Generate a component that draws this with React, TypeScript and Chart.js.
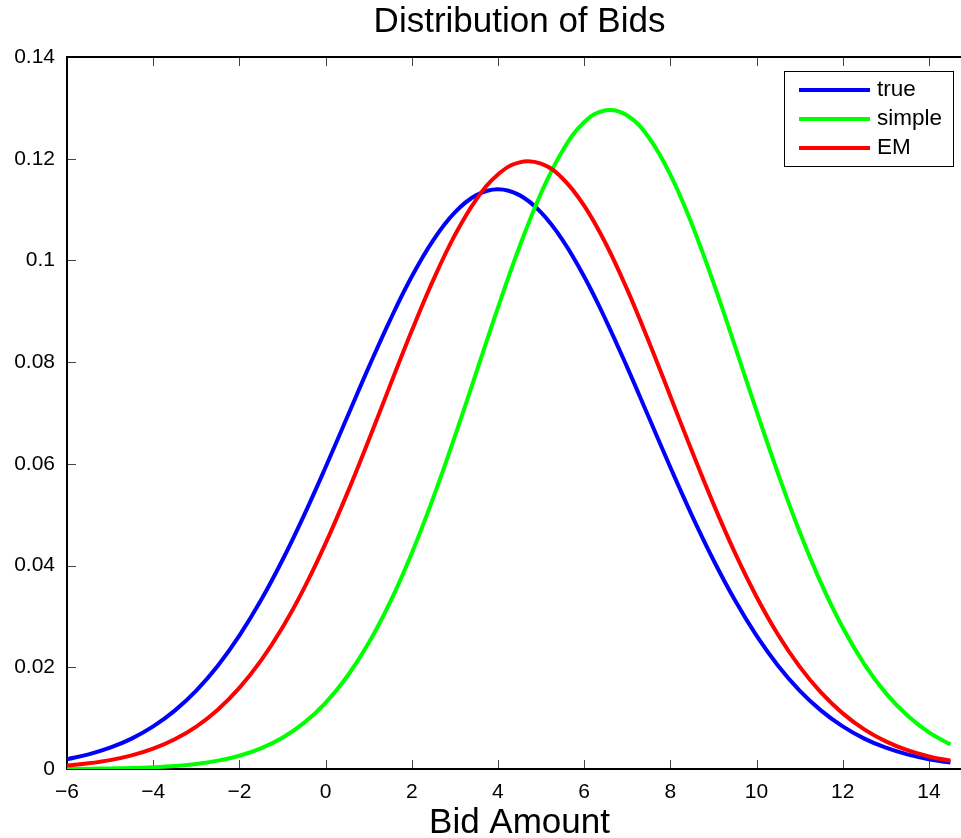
import React, { useEffect, useRef } from "react";
import { Chart, registerables } from "chart.js";

Chart.register(...registerables);

// x positions sampled along the curves
const bidAmounts = [
  -6, -5.5, -5, -4.5, -4, -3.5, -3, -2.5, -2, -1.5, -1, -0.5, 0, 0.5, 1, 1.5, 2, 2.5, 3, 3.5, 4,
  4.5, 5, 5.5, 6, 6.5, 7, 7.5, 8, 8.5, 9, 9.5, 10, 10.5, 11, 11.5, 12, 12.5, 13, 13.5, 14, 14.5,
];

const trueValues = [
  0.00192, 0.00287, 0.00418, 0.00597, 0.00837, 0.01148, 0.01543, 0.02032, 0.02623, 0.03316,
  0.04109, 0.04988, 0.05933, 0.06915, 0.07896, 0.08833, 0.09683, 0.104, 0.10944, 0.11284, 0.114,
  0.11284, 0.10944, 0.104, 0.09683, 0.08833, 0.07896, 0.06915, 0.05933, 0.04988, 0.04109, 0.03316,
  0.02623, 0.02032, 0.01543, 0.01148, 0.00837, 0.00597, 0.00418, 0.00287, 0.00192, 0.00127,
];

const simpleValues = [
  0.00003, 0.00006, 0.00011, 0.00019, 0.00035, 0.0006, 0.001, 0.00164, 0.00261, 0.00406, 0.00615,
  0.00906, 0.01301, 0.01819, 0.02476, 0.03284, 0.04243, 0.05337, 0.0654, 0.07804, 0.09071, 0.10269,
  0.11322, 0.12158, 0.12716, 0.12953, 0.12851, 0.12418, 0.11686, 0.10712, 0.09563, 0.08315,
  0.07041, 0.05808, 0.04665, 0.0365, 0.02781, 0.02064, 0.01492, 0.0105, 0.0072, 0.00481,
];

const emValues = [
  0.0007, 0.00112, 0.00175, 0.00268, 0.004, 0.00585, 0.00835, 0.01167, 0.01594, 0.0213, 0.02781,
  0.03551, 0.04435, 0.05415, 0.06465, 0.07548, 0.08616, 0.09617, 0.10497, 0.11202, 0.1169, 0.11929,
  0.11902, 0.11612, 0.11077, 0.10333, 0.09425, 0.08406, 0.07331, 0.06252, 0.05213, 0.0425, 0.03388,
  0.02641, 0.02013, 0.015, 0.01094, 0.00779, 0.00543, 0.0037, 0.00247, 0.00161,
];

const xTicks = [-6, -4, -2, 0, 2, 4, 6, 8, 10, 12, 14];
const yTicks = [0, 0.02, 0.04, 0.06, 0.08, 0.1, 0.12, 0.14];

const seriesNames = ["true", "simple", "EM"];
const seriesColors = ["#0000ff", "#00ff00", "#ff0000"];
const seriesValues = [trueValues, simpleValues, emValues];

const FONT = "'Liberation Sans', Arial, Helvetica, sans-serif";

const framePlugin = {
  id: "matlabFrame",
  beforeDatasetsDraw(chart: any) {
    const { ctx, chartArea } = chart;
    const { left, right, top, bottom } = chartArea;
    const xs = chart.scales.x;
    const ys = chart.scales.y;
    const tl = 9;
    ctx.save();
    ctx.strokeStyle = "#444";
    ctx.lineWidth = 1;
    ctx.beginPath();
    xTicks.forEach((v) => {
      const px = Math.round(xs.getPixelForValue(v)) + 0.5;
      ctx.moveTo(px, bottom);
      ctx.lineTo(px, bottom - tl);
      ctx.moveTo(px, top);
      ctx.lineTo(px, top + tl);
    });
    yTicks.forEach((v) => {
      const py = Math.round(ys.getPixelForValue(v)) + 0.5;
      ctx.moveTo(left, py);
      ctx.lineTo(left + tl, py);
      ctx.moveTo(right, py);
      ctx.lineTo(right - tl, py);
    });
    ctx.stroke();
    ctx.strokeStyle = "#000";
    ctx.lineWidth = 2;
    ctx.strokeRect(left, top, right - left, bottom - top);
    ctx.restore();
  },
};

const legendPlugin = {
  id: "boxLegend",
  afterDatasetsDraw(chart: any) {
    const { ctx, chartArea } = chart;
    const boxRight = chartArea.right - 19;
    const boxLeft = boxRight - 169;
    const boxTop = chartArea.top + 14;
    const rowH = 29;
    const boxH = 95;
    ctx.save();
    ctx.fillStyle = "#fff";
    ctx.fillRect(boxLeft, boxTop, boxRight - boxLeft, boxH);
    ctx.strokeStyle = "#000";
    ctx.lineWidth = 1;
    ctx.strokeRect(boxLeft + 0.5, boxTop + 0.5, boxRight - boxLeft, boxH);
    ctx.font = `22.5px ${FONT}`;
    ctx.textBaseline = "middle";
    ctx.textAlign = "left";
    chart.data.datasets.forEach((ds: any, i: number) => {
      const y = boxTop + 19 + i * rowH;
      ctx.strokeStyle = ds.borderColor;
      ctx.lineWidth = 4;
      ctx.beginPath();
      ctx.moveTo(boxLeft + 15, y);
      ctx.lineTo(boxLeft + 86, y);
      ctx.stroke();
      ctx.fillStyle = "#000";
      ctx.fillText(ds.label, boxLeft + 93, y);
    });
    ctx.restore();
  },
};

const minus = (v: number) => String(Number(v.toFixed(2))).replace("-", "\u2212");

export default function App() {
  const canvasRef = useRef<HTMLCanvasElement | null>(null);

  useEffect(() => {
    if (!canvasRef.current) return;
    const datasets = seriesNames.map((name, i) => ({
      label: name,
      data: bidAmounts.map((x, j) => ({ x, y: seriesValues[i][j] })),
      borderColor: seriesColors[i],
      backgroundColor: seriesColors[i],
      borderWidth: 4,
      pointRadius: 0,
      tension: 0.4,
      fill: false,
      order: 3 - i,
    }));
    const chart = new Chart(canvasRef.current, {
      type: "line",
      data: { datasets },
      plugins: [framePlugin, legendPlugin],
      options: {
        animation: false,
        responsive: false,
        maintainAspectRatio: false,
        layout: { padding: { left: 0, right: 4, top: 0, bottom: 0 } },
        plugins: {
          legend: { display: false },
          tooltip: { enabled: false },
          title: {
            display: true,
            fullSize: false,
            text: "Distribution of Bids",
            color: "#000",
            font: { family: FONT, size: 35, weight: "normal", lineHeight: 1.2 },
            padding: { top: 1.5, bottom: 13.5 },
          },
        },
        scales: {
          x: {
            type: "linear",
            min: -6,
            max: 15,
            grid: { display: false, drawTicks: false },
            border: { display: false },
            afterBuildTicks: (scale: any) => {
              scale.ticks = xTicks.map((v) => ({ value: v }));
            },
            afterFit: (scale: any) => {
              scale.height = 69;
            },
            ticks: {
              color: "#000",
              padding: 11,
              maxRotation: 0,
              autoSkip: false,
              font: { family: FONT, size: 21 },
              callback: (v: any) => minus(Number(v)),
            },
            title: {
              display: true,
              text: "Bid Amount",
              color: "#000",
              font: { family: FONT, size: 35, lineHeight: 0.8 },
              padding: { top: 0, bottom: 1 },
            },
          },
          y: {
            type: "linear",
            min: 0,
            max: 0.14,
            grid: { display: false, drawTicks: false },
            border: { display: false },
            afterBuildTicks: (scale: any) => {
              scale.ticks = yTicks.map((v) => ({ value: v }));
            },
            afterFit: (scale: any) => {
              scale.width = 67;
            },
            ticks: {
              color: "#000",
              padding: 12,
              autoSkip: false,
              font: { family: FONT, size: 21 },
              callback: (v: any) => minus(Number(v)),
            },
          },
        },
      } as any,
    });
    return () => chart.destroy();
  }, []);

  return (
    <div
      style={{
        position: "absolute",
        left: 0,
        top: 0,
        width: 961,
        height: 838,
        overflow: "hidden",
        background: "#fff",
      }}
    >
      <canvas ref={canvasRef} width={976} height={838} style={{ width: 976, height: 838, display: "block" }} />
    </div>
  );
}
